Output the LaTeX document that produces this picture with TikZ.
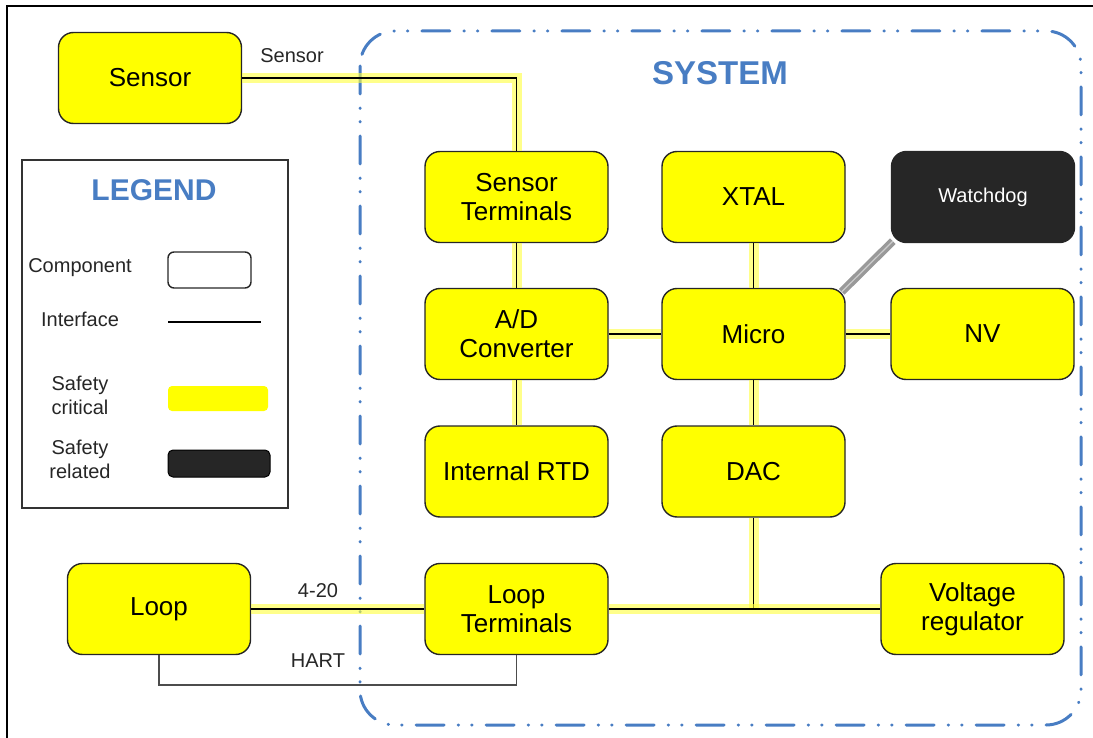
\documentclass[tikz,border=0pt]{standalone}
\usepackage{fontspec}
\setmainfont{Liberation Sans}
\definecolor{sysblue}{RGB}{72,125,195}
\definecolor{critical}{RGB}{255,255,0}
\definecolor{glow}{RGB}{255,255,60}
\definecolor{darkbox}{RGB}{38,38,38}

\begin{document}
\begin{tikzpicture}[x=1pt, y=-1pt,
    component/.style ={rounded corners=15pt, draw=black!85, line width=1.4pt, fill=critical,
      minimum width=183pt, minimum height=91pt, align=center, inner sep=2pt,
      font=\fontsize{26}{29}\selectfont},
    related/.style ={component, fill=darkbox, text=white, font=\fontsize{20}{24}\selectfont},
    interface/.style ={draw=black, line width=1.3pt, preaction={draw=glow, line width=10pt, opacity=0.6}},
    monitor/.style ={draw=white!80!black, line width=1.2pt, preaction={draw=black!50, line width=8pt, opacity=0.8}},
    caption/.style ={font=\fontsize{20}{24}\selectfont, text=black!85, align=center},
    heading/.style ={font=\bfseries\fontsize{33}{36}\selectfont, text=sysblue}]
   \useasboundingbox (0,0) rectangle (1093,738);
   \draw[line width=2.5pt] (7,738) -- (7,6) -- (1093,6);
   \draw[sysblue, line width=3pt, line cap=round, rounded corners=35pt,
     dash pattern=on 28pt off 14pt on 0.5pt off 13pt on 0.5pt off 14pt] (360,31) rectangle (1081,725);
   \node[heading] (system) at (720,73) {SYSTEM};

   \node[component] (sensor) at (150,78) {Sensor};
   \node[component] (sterm) at (516.5,197) {Sensor\\Terminals};
   \node[component] (xtal) at (753.5,197) {XTAL};
   \node[related] (watchdog) at (983,197) {Watchdog};
   \node[component] (adc) at (516.5,334) {A/D\\Converter};
   \node[component] (micro) at (753.5,334) {Micro};
   \node[component] (nv) at (982.5,334) {NV};
   \node[component] (rtd) at (516.5,471.5) {Internal RTD};
   \node[component] (dac) at (753.5,471.5) {DAC};
   \node[component] (loop) at (159,609) {Loop};
   \node[component] (lterm) at (516.5,609) {Loop\\Terminals};
   \node[component] (vreg) at (972.5,609) {Voltage\\regulator};
   \coordinate (tap) at (dac |- lterm);

   \draw[interface] (sensor) -| (sterm);
   \draw[interface] (sterm) to (adc);
   \draw[interface] (adc) to (rtd);
   \draw[interface] (adc) to (micro);
   \draw[interface] (xtal) to (micro);
   \draw[interface] (micro) to (nv);
   \draw[interface] (micro) to (dac);
   \draw[interface] (dac) to (tap);
   \draw[interface] (lterm) to (vreg);
   \draw[interface] (loop) to (lterm);
   \draw[monitor] ([shift={(-4,4)}]micro.north east) to ([shift={(2,-2)}]watchdog.south west);
   \draw[line width=1.5pt, black!70] (loop.south) -- ++(0,30) -| (lterm.south);

   \node[caption] (sensorlabel) at (292,56) {Sensor};
   \node[caption] (current) at (318,591) {4-20};
   \node[caption] (hart) at (318,661) {HART};

   \node[draw=black!80, line width=1.2pt, minimum width=266pt, minimum height=348pt] (legend) at (155,334) {};
   \node[heading, font=\bfseries\fontsize{30}{34}\selectfont] (legendtitle) at (154,190) {LEGEND};
   \node[caption] (comptext) at (80,268) {Component};
   \node[draw=black!85, line width=1.4pt, rounded corners=6pt, minimum width=83pt, minimum height=36pt] (compkey) at (209.5,270) {};
   \node[caption] (iftext) at (80,319) {Interface};
   \coordinate (ifstart) at (168,322);
   \coordinate (ifend) at (261,322);
   \draw[line width=1.3pt] (ifstart) -- (ifend);
   \node[caption] (crittext) at (80,395) {Safety\\critical};
   \node[fill=critical, rounded corners=4pt, minimum width=100pt, minimum height=25pt] (critkey) at (218,398.5) {};
   \node[caption] (reltext) at (80,459) {Safety\\related};
   \node[fill=darkbox, draw=black, line width=1pt, rounded corners=5pt, minimum width=102pt, minimum height=27pt] (relkey) at (219,463.5) {};
\end{tikzpicture}
\end{document}
